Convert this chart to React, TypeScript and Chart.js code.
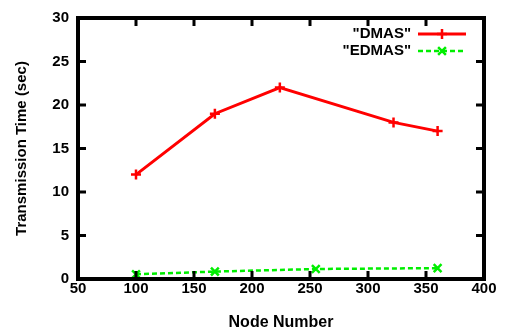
import React, { useEffect, useRef } from "react";
import { Chart, registerables } from "chart.js";

Chart.register(...registerables);

const dmasNodes = [100, 168, 224, 322, 360];
const dmasTimes = [12, 19, 22, 18, 17];
const edmasNodes = [100, 168, 255, 360];
const edmasTimes = [0.55, 0.85, 1.15, 1.25];
const xTicks = [50, 100, 150, 200, 250, 300, 350, 400];
const yTicks = [0, 5, 10, 15, 20, 25, 30];
const seriesNames = ['"DMAS"', '"EDMAS"'];

const FONT = "'Liberation Sans', Arial, Helvetica, sans-serif";

const framePlugin = {
  id: "gnuframe",
  afterDatasetsDraw(chart: any) {
    const { ctx, chartArea: a, scales } = chart;
    ctx.save();
    ctx.strokeStyle = "#000";
    ctx.lineWidth = 3;
    ctx.lineCap = "butt";
    const tl = 8;
    ctx.beginPath();
    for (const v of xTicks) {
      const px = scales.x.getPixelForValue(v);
      ctx.moveTo(px, a.bottom);
      ctx.lineTo(px, a.bottom - tl);
      ctx.moveTo(px, a.top);
      ctx.lineTo(px, a.top + tl);
    }
    for (const v of yTicks) {
      const py = scales.y.getPixelForValue(v);
      ctx.moveTo(a.left, py);
      ctx.lineTo(a.left + tl, py);
      ctx.moveTo(a.right, py);
      ctx.lineTo(a.right - tl, py);
    }
    ctx.stroke();
    ctx.lineWidth = 4;
    ctx.strokeRect(a.left, a.top, a.right - a.left, a.bottom - a.top);

    // legend (gnuplot style, top right inside)
    ctx.font = `bold 15px ${FONT}`;
    ctx.textAlign = "right";
    ctx.textBaseline = "middle";
    ctx.fillStyle = "#000";
    const textRight = a.right - 73;
    const lineX0 = a.right - 66;
    const lineX1 = a.right - 18;
    const rows = [a.top + 16, a.top + 33];
    chart.data.datasets.forEach((ds: any, i: number) => {
      const y = rows[i];
      ctx.fillText(seriesNames[i], textRight, y);
      ctx.save();
      ctx.strokeStyle = ds.borderColor;
      ctx.lineWidth = ds.borderWidth;
      ctx.setLineDash(ds.borderDash || []);
      ctx.beginPath();
      ctx.moveTo(lineX0, y);
      ctx.lineTo(lineX1, y);
      ctx.stroke();
      ctx.setLineDash([]);
      const mx = (lineX0 + lineX1) / 2;
      ctx.lineWidth = ds.pointBorderWidth;
      ctx.beginPath();
      if (ds.pointStyle === "cross") {
        const r = ds.pointRadius;
        ctx.moveTo(mx - r, y);
        ctx.lineTo(mx + r, y);
        ctx.moveTo(mx, y - r);
        ctx.lineTo(mx, y + r);
      } else {
        const r = ds.pointRadius * Math.SQRT1_2;
        ctx.moveTo(mx - r, y - r);
        ctx.lineTo(mx + r, y + r);
        ctx.moveTo(mx - r, y + r);
        ctx.lineTo(mx + r, y - r);
      }
      ctx.stroke();
      ctx.restore();
    });
    ctx.restore();
  },
};

export default function App() {
  const ref = useRef<HTMLCanvasElement>(null);
  useEffect(() => {
    if (!ref.current) return;
    const tickFont = { family: FONT, size: 15, weight: "bold" as const };
    const chart = new Chart(ref.current, {
      type: "line",
      data: {
        datasets: [
          {
            label: seriesNames[0],
            data: dmasNodes.map((x, i) => ({ x, y: dmasTimes[i] })),
            borderColor: "#ff0000",
            backgroundColor: "#ff0000",
            borderWidth: 3,
            pointStyle: "cross",
            pointRadius: 5,
            pointBorderWidth: 2.5,
            pointBorderColor: "#ff0000",
            tension: 0,
          },
          {
            label: seriesNames[1],
            data: edmasNodes.map((x, i) => ({ x, y: edmasTimes[i] })),
            borderColor: "#00ee00",
            backgroundColor: "#00ee00",
            borderWidth: 2.5,
            borderDash: [5, 3],
            pointStyle: "crossRot",
            pointRadius: 5.5,
            pointBorderWidth: 2.5,
            pointBorderColor: "#00ee00",
            tension: 0,
          },
        ],
      },
      options: {
        animation: false,
        responsive: false,
        events: [],
        layout: { padding: { left: 0, right: 22, top: 14.5, bottom: 0 } },
        plugins: { legend: { display: false }, tooltip: { enabled: false } },
        scales: {
          x: {
            type: "linear",
            min: 50,
            max: 400,
            afterBuildTicks: (s: any) => {
              s.ticks = xTicks.map((v) => ({ value: v }));
            },
            afterFit: (s: any) => {
              s.height = 56;
            },
            ticks: { font: tickFont, color: "#000", padding: 1 },
            grid: { display: false, drawTicks: false },
            border: { display: false },
            title: {
              display: true,
              text: "Node Number",
              font: { family: FONT, size: 16, weight: "bold" as const },
              color: "#000",
              padding: { top: 0, bottom: 3 },
            },
          },
          y: {
            type: "linear",
            min: 0,
            max: 30,
            afterBuildTicks: (s: any) => {
              s.ticks = yTicks.map((v) => ({ value: v }));
            },
            afterFit: (s: any) => {
              s.width = 78;
            },
            ticks: { font: tickFont, color: "#000", padding: 9 },
            grid: { display: false, drawTicks: false },
            border: { display: false },
            title: {
              display: true,
              text: "Transmission Time (sec)",
              font: tickFont,
              color: "#000",
              padding: { top: 13, bottom: 0 },
            },
          },
        },
      },
      plugins: [framePlugin],
    });
    return () => chart.destroy();
  }, []);
  return (
    <div style={{ position: "fixed", left: 0, top: 0, width: 506, height: 335, background: "#fff" }}>
      <canvas ref={ref} width={506} height={335} style={{ width: 506, height: 335, display: "block" }} />
    </div>
  );
}
